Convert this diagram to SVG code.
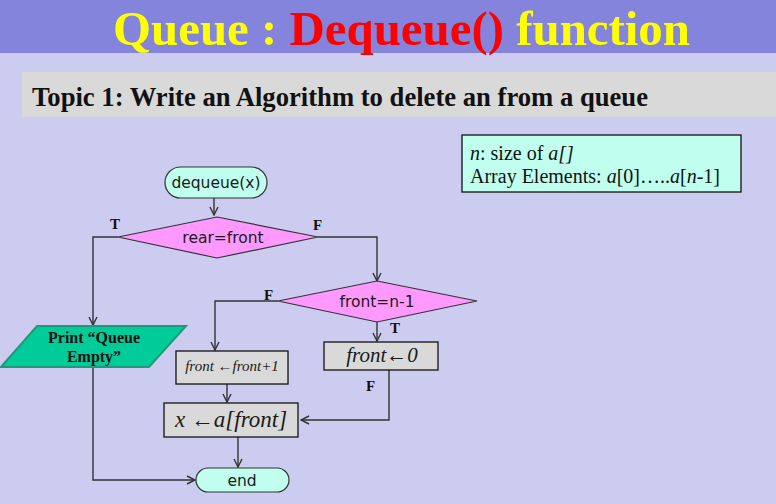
<svg xmlns="http://www.w3.org/2000/svg" width="776" height="504" viewBox="0 0 776 504">
<style>
.sans{font-family:"DejaVu Sans",Verdana,sans-serif;font-size:15.5px;fill:#1a1a1a;text-anchor:middle}
.ser{font-family:"Liberation Serif","Times New Roman",serif}
.lbl{font-family:"Liberation Serif","Times New Roman",serif;font-weight:bold;font-size:15px;fill:#111}
.term{fill:#C0FFEE;stroke:#333;stroke-width:1.2}
.dia{fill:#FF99FF;stroke:#333;stroke-width:1.2}
.box{fill:#D9D9D9;stroke:#111;stroke-width:1.3}
.it{font-family:"Liberation Serif","Times New Roman",serif;font-style:italic;fill:#1a1a1a;text-anchor:middle}
.con{fill:none;stroke:#333;stroke-width:1.4}
</style>
<defs>
<marker id="arr" viewBox="0 0 10 10" refX="9" refY="5" markerWidth="10" markerHeight="10" markerUnits="userSpaceOnUse" orient="auto">
<path d="M1,1 L9,5 L1,9" fill="none" stroke="#333" stroke-width="1.4"/>
</marker>
</defs>
<rect x="0" y="0" width="776" height="504" fill="#CCCCF0"/>
<rect x="0" y="0" width="776" height="53" fill="#8484DD"/>
<text x="113" y="45" class="ser" font-size="48" font-weight="bold" fill="#FFFF00" textLength="577" lengthAdjust="spacingAndGlyphs">Queue : <tspan fill="#FF0000">Dequeue()</tspan> function</text>
<rect x="22" y="72" width="754" height="45" fill="#D9D9D9"/>
<text x="32" y="106" class="ser" font-size="28" font-weight="bold" fill="#111" textLength="616" lengthAdjust="spacingAndGlyphs">Topic 1: Write an Algorithm to delete an from a queue</text>

<g id="info">
<rect x="462" y="135" width="279" height="57" fill="#C0FFEE" stroke="#111" stroke-width="1.3"/>
<text x="470" y="160" class="ser" font-size="20" fill="#111"><tspan font-style="italic">n</tspan>: size of <tspan font-style="italic">a[]</tspan></text>
<text x="470" y="183" class="ser" font-size="20" fill="#111">Array Elements: <tspan font-style="italic">a</tspan>[0]…..<tspan font-style="italic">a</tspan>[<tspan font-style="italic">n</tspan>-1]</text>
</g>

<g id="connectors">
<path class="con" d="M214,198 V215" marker-end="url(#arr)"/>
<path class="con" d="M118,237 H93 V325" marker-end="url(#arr)"/>
<path class="con" d="M318,237 H377 V281" marker-end="url(#arr)"/>
<path class="con" d="M278,301 H215 V350" marker-end="url(#arr)"/>
<path class="con" d="M377,322 V341" marker-end="url(#arr)"/>
<path class="con" d="M389,370 V420 H301" marker-end="url(#arr)"/>
<path class="con" d="M227,384 V402" marker-end="url(#arr)"/>
<path class="con" d="M238,437 V467" marker-end="url(#arr)"/>
<path class="con" d="M93,367 V480 H195" marker-end="url(#arr)"/>
<text x="110" y="229" class="lbl">T</text>
<text x="313" y="230" class="lbl">F</text>
<text x="264" y="300" class="lbl">F</text>
<text x="390" y="333" class="lbl">T</text>
<text x="366" y="391" class="lbl">F</text>
</g>

<g id="start">
<rect x="165" y="167" width="102" height="31" rx="15.5" class="term"/>
<text x="216" y="188" class="sans">dequeue(x)</text>
</g>

<g id="cond1">
<polygon points="217,217 318,237 217,258 118,237" class="dia"/>
<text x="223" y="243" class="sans">rear=front</text>
</g>

<g id="cond2">
<polygon points="377,281 477,301 377,322 278,301" class="dia"/>
<text x="377" y="307" class="sans">front=n-1</text>
</g>

<g id="print">
<polygon points="37,326 186,326 149,367 1,367" fill="#00CC99" stroke="#1F9A78" stroke-width="2"/>
<text x="94" y="343" class="ser" font-size="16" font-weight="bold" text-anchor="middle" fill="#111">Print “Queue</text>
<text x="94" y="362" class="ser" font-size="16" font-weight="bold" text-anchor="middle" fill="#111">Empty”</text>
</g>

<g id="inc">
<rect x="176" y="351" width="112" height="33" class="box"/>
<text x="232" y="371" class="it" font-size="15">front ←front+1</text>
</g>

<g id="reset">
<rect x="324" y="342" width="114" height="28" class="box"/>
<text x="382" y="362" class="it" font-size="21">front←0</text>
</g>

<g id="assign">
<rect x="164" y="403" width="134" height="34" class="box"/>
<text x="231" y="427" class="it" font-size="23">x ←a[front]</text>
</g>

<g id="end">
<rect x="196" y="468" width="93" height="24" rx="12" class="term"/>
<text x="242" y="486" class="sans">end</text>
</g>
</svg>
